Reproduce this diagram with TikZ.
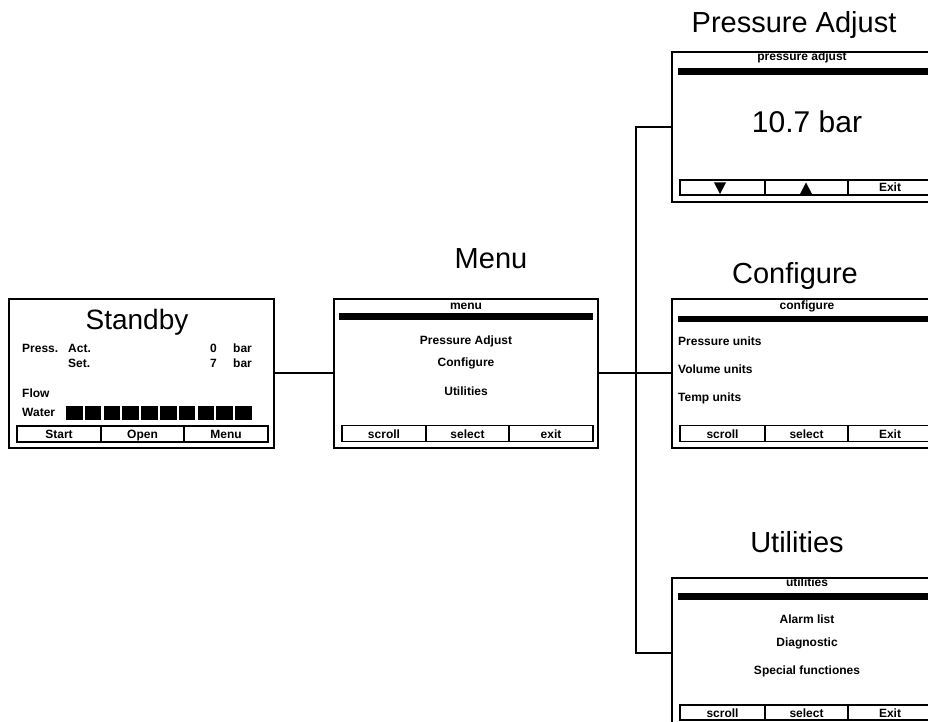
\documentclass[tikz,border=0pt]{standalone}
\usepackage{fontspec}
\setmainfont{Liberation Sans}
\newcommand{\lblfont}{\fontsize{12}{13}\selectfont\bfseries}
\newcommand{\ttlfont}{\fontsize{29}{30}\selectfont}
\begin{document}
\begin{tikzpicture}[x=1pt,y=-1pt,
  screen/.style={draw, line width=2pt, rectangle, inner sep=0pt, minimum height=149pt},
  cell/.style={draw, line width=1.5pt, rectangle, inner sep=0pt, minimum height=16pt,
    text height=9pt, text depth=0pt, font=\lblfont},
  wire/.style={line width=2pt},
  ttl/.style={font=\ttlfont, anchor=base, inner sep=0pt},
  lbl/.style={font=\lblfont, inner sep=0pt},
]
\useasboundingbox (0,0) rectangle (928,722);
\clip (0,0) rectangle (928,722);

% ---------- screens ----------
\node[screen, minimum width=265pt] (standby) at (141.5,373) {};
\node[screen, minimum width=264pt] (menu) at (466,373) {};
\node[screen, minimum width=270pt, minimum height=150pt] (press) at (807,127) {};
\node[screen, minimum width=270pt] (config) at (807,373) {};
\node[screen, minimum width=270pt, minimum height=150pt] (util) at (807,653) {};

% ---------- connectors ----------
\coordinate (junc) at (636,373);
\draw[wire] (standby.east) -- (menu.west);
\draw[wire] (menu.east) -- (config.west);
\draw[wire] (press.west) -| (junc) |- (util.west);

% ---------- titles ----------
\node[ttl] (tmenu) at (491,268) {Menu};
\node[ttl] (tpress) at (794,33) {Pressure Adjust};
\node[ttl] (tconf) at (795,283) {Configure};
\node[ttl] (tutil) at (797,552) {Utilities};

% ---------- Standby screen ----------
\node[ttl, font=\fontsize{28}{29}\selectfont] (sbt) at (137,329) {Standby};
\node[lbl, anchor=base west] (sbp) at (22,352) {Press.};
\node[lbl, anchor=base west] (sba) at (68,352) {Act.};
\node[lbl, anchor=base west] (sba0) at (210,352) {0};
\node[lbl, anchor=base west] (sbab) at (233,352) {bar};
\node[lbl, anchor=base west] (sbs) at (68,367) {Set.};
\node[lbl, anchor=base west] (sbs7) at (210,367) {7};
\node[lbl, anchor=base west] (sbsb) at (233,367) {bar};
\node[lbl, anchor=base west] (sbf) at (22,397) {Flow};
\node[lbl, anchor=base west] (sbw) at (22,416) {Water};
\foreach \i in {0,...,9} {
  \fill ({66+18.8*\i},406) rectangle ({82.5+18.8*\i},420);
}
\node[cell, minimum width=84pt] (sb1) at (59,434) {Start};
\node[cell, minimum width=83pt] (sb2) at (142.5,434) {Open};
\node[cell, minimum width=84pt] (sb3) at (226,434) {Menu};

% ---------- Menu screen ----------
\node[lbl, anchor=base] (mt) at (466,309) {menu};
\fill (339,313) rectangle (593,320);
\node[lbl, anchor=base] (m1) at (466,344) {Pressure Adjust};
\node[lbl, anchor=base] (m2) at (466,366) {Configure};
\node[lbl, anchor=base] (m3) at (466,395) {Utilities};
\node[cell, minimum width=84pt] (mb1) at (384,433.5) {scroll};
\node[cell, minimum width=83pt] (mb2) at (467.5,433.5) {select};
\node[cell, minimum width=84pt] (mb3) at (551,433.5) {exit};

% ---------- Pressure adjust screen ----------
\node[lbl, anchor=base] (pt) at (802,61) {pressure adjust};
\fill (678,68) rectangle (940,75);
\node[ttl, font=\fontsize{30}{31}\selectfont] (pv) at (807,133) {10.7 bar};
\node[cell, minimum width=85pt, minimum height=15pt] (pb1) at (722.5,187.5) {};
\node[cell, minimum width=83pt, minimum height=15pt] (pb2) at (806.5,187.5) {};
\node[cell, minimum width=84pt, minimum height=15pt] (pb3) at (890,187.5) {Exit};
\fill (714,182.5) -- (726,182.5) -- (720,194) -- cycle;
\fill (800,194) -- (812,194) -- (806,182.5) -- cycle;

% ---------- Configure screen ----------
\node[lbl, anchor=base] (ct) at (807,309) {configure};
\fill (678,316) rectangle (940,322);
\node[lbl, anchor=base west] (c1) at (678,345) {Pressure units};
\node[lbl, anchor=base west] (c2) at (678,373) {Volume units};
\node[lbl, anchor=base west] (c3) at (678,401) {Temp units};
\node[cell, minimum width=85pt] (cb1) at (722.5,433.5) {scroll};
\node[cell, minimum width=83pt] (cb2) at (806.5,433.5) {select};
\node[cell, minimum width=84pt] (cb3) at (890,433.5) {Exit};

% ---------- Utilities screen ----------
\node[lbl, anchor=base] (ut) at (807,586) {utilities};
\fill (678,593) rectangle (940,600);
\node[lbl, anchor=base] (u1) at (807,623) {Alarm list};
\node[lbl, anchor=base] (u2) at (807,646) {Diagnostic};
\node[lbl, anchor=base] (u3) at (807,674) {Special functiones};
\node[cell, minimum width=85pt, minimum height=15pt] (ub1) at (722.5,712.5) {scroll};
\node[cell, minimum width=83pt, minimum height=15pt] (ub2) at (806.5,712.5) {select};
\node[cell, minimum width=84pt, minimum height=15pt] (ub3) at (890,712.5) {Exit};
\end{tikzpicture}
\end{document}
